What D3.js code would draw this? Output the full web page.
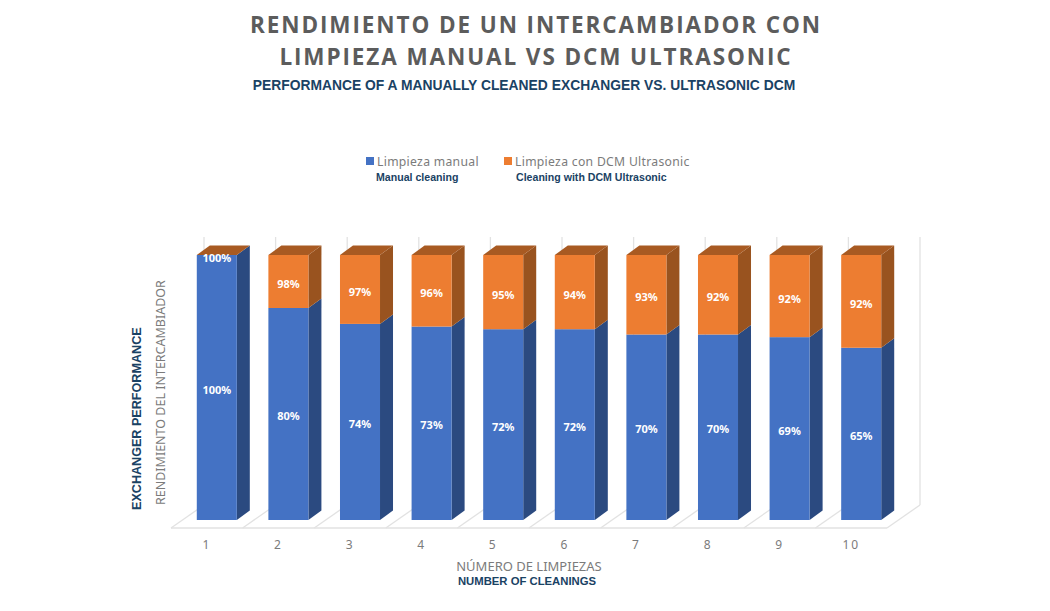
<!DOCTYPE html>
<html>
<head>
  <meta charset="utf-8">
  <title>Rendimiento de un intercambiador</title>
  <style type="text/css">
    html, body { margin: 0; padding: 0; background: #fff; }
    svg { display: block; }
    .en { font-family: "Liberation Sans", Arial, sans-serif; font-weight: bold; fill: #1a4264; }
    .es { font-family: "Noto Sans", sans-serif; fill: #7b7b7b; }
    .val { font-family: "Noto Sans", sans-serif; font-weight: bold; font-size: 11px; fill: #fff; text-anchor: middle; }
  </style>
</head>
<body>
<svg id="vis" width="1050" height="611"></svg>

<script src="https://cdnjs.cloudflare.com/ajax/libs/d3/7.8.5/d3.min.js"></script>
<script type="text/javascript">
  var categories = ['1', '2', '3', '4', '5', '6', '7', '8', '9', '10'];
  // blue bars, % of the first cleaning
  var manual = [100, 80, 74, 73, 72, 72, 70, 70, 69, 65];
  // orange labels; the orange block always fills up to the axis maximum
  var ultrasonic = [100, 98, 97, 96, 95, 94, 93, 92, 92, 92];
  var axisMax = 100;

  var blue = '#4472c4', blueSide = '#2b4a80',
      orange = '#ed7d31', orangeTop = '#a85a22', orangeSide = '#99531f',
      grid = '#e2e2e2';

  var svg = d3.select('#vis');

  var x = d3.scaleBand().domain(categories).range([171, 887])
    .paddingInner(0.441).paddingOuter(0.2205);
  var y = d3.scaleLinear().domain([0, axisMax]).range([520, 255]);
  var step = x.step();

  // 3d look: bars sit a little inside the floor, and have a slanted depth
  var barShift = 10, depthX = 13, depthY = 9.5;
  var floorDX = 33, floorDY = 23, floorY = 528, wallTop = 237;

  function poly(pts) { return pts.map(function(p) { return p.join(','); }).join(' '); }

  /* floor and back wall */
  var floor = svg.append('g').attr('fill', 'none').attr('stroke', grid).attr('stroke-width', 1.3);
  floor.append('line').attr('x1', 171).attr('x2', 887).attr('y1', floorY).attr('y2', floorY);
  d3.range(0, categories.length + 1).forEach(function(i) {
    var fx = 171 + i * step;
    floor.append('line').attr('x1', fx).attr('x2', fx + floorDX)
      .attr('y1', floorY).attr('y2', floorY - floorDY);
    floor.append('line').attr('x1', fx + floorDX).attr('x2', fx + floorDX)
      .attr('y1', floorY - floorDY).attr('y2', wallTop);
  });

  /* bars */
  function box(g, x0, y0, y1, front, side) {
    // y0 = lower edge, y1 = upper edge
    g.append('polygon').attr('fill', side).attr('points', poly([
      [x0 + x.bandwidth(), y0], [x0 + x.bandwidth() + depthX, y0 - depthY],
      [x0 + x.bandwidth() + depthX, y1 - depthY], [x0 + x.bandwidth(), y1]]));
    g.append('rect').attr('fill', front).attr('x', x0).attr('y', y1)
      .attr('width', x.bandwidth()).attr('height', y0 - y1);
  }

  var bars = svg.selectAll('g.bar').data(categories).enter().append('g').attr('class', 'bar');

  bars.each(function(d, i) {
    var g = d3.select(this), x0 = x(d) + barShift;
    box(g, x0, y(0), y(manual[i]), blue, blueSide);
    if (manual[i] < axisMax) box(g, x0, y(manual[i]), y(axisMax), orange, orangeSide);
    g.append('polygon').attr('fill', orangeTop).attr('points', poly([
      [x0, y(axisMax)], [x0 + depthX, y(axisMax) - depthY],
      [x0 + x.bandwidth() + depthX, y(axisMax) - depthY], [x0 + x.bandwidth(), y(axisMax)]]));

    var cx = x0 + x.bandwidth() / 2;
    g.append('text').attr('class', 'val').attr('x', cx)
      .attr('y', manual[i] < axisMax ? (y(manual[i]) + y(axisMax)) / 2 + 6.5 : y(axisMax) + 6.5)
      .text(ultrasonic[i] + '%');
    g.append('text').attr('class', 'val').attr('x', cx)
      .attr('y', (y(manual[i]) + y(0)) / 2 + 6)
      .text(manual[i] + '%');
  });

  /* category labels */
  svg.selectAll('text.cat').data(categories).enter().append('text')
    .attr('class', 'es cat')
    .attr('x', function(d) { return x(d) + x.bandwidth() / 2; })
    .attr('y', 549)
    .attr('text-anchor', 'middle')
    .attr('font-size', 12)
    .attr('letter-spacing', 1.8)
    .text(function(d) { return d; });

  /* titles */
  function label(cls, txt, px, py, size, extra) {
    var t = svg.append('text').attr('class', cls).attr('x', px).attr('y', py)
      .attr('font-size', size).text(txt);
    if (extra) Object.keys(extra).forEach(function(k) { t.attr(k, extra[k]); });
    return t;
  }

  label('es', 'RENDIMIENTO DE UN INTERCAMBIADOR CON', 536, 33, 22.5,
    { 'text-anchor': 'middle', 'font-weight': 'bold', 'letter-spacing': 1.9, style: 'fill:#5c5c5c;font-family:"Open Sans"' });
  label('es', 'LIMPIEZA MANUAL VS DCM ULTRASONIC', 536, 65, 22.5,
    { 'text-anchor': 'middle', 'font-weight': 'bold', 'letter-spacing': 1.9, style: 'fill:#5c5c5c;font-family:"Open Sans"' });
  label('en', 'PERFORMANCE OF A MANUALLY CLEANED EXCHANGER VS. ULTRASONIC DCM', 524, 90, 13.85,
    { 'text-anchor': 'middle' });

  /* legend */
  svg.append('rect').attr('x', 366).attr('y', 157).attr('width', 8).attr('height', 8).attr('fill', blue);
  svg.append('rect').attr('x', 504).attr('y', 157).attr('width', 8).attr('height', 8).attr('fill', orange);
  label('es', 'Limpieza manual', 377, 166, 12.2, { 'letter-spacing': 0.3 });
  label('es', 'Limpieza con DCM Ultrasonic', 515, 166, 12.2, { 'letter-spacing': 0.3 });
  label('en', 'Manual cleaning', 376, 181, 10.6);
  label('en', 'Cleaning with DCM Ultrasonic', 516, 181, 10.6);

  /* axis titles */
  label('es', 'NÚMERO DE LIMPIEZAS', 529, 571, 13, { 'text-anchor': 'middle' });
  label('en', 'NUMBER OF CLEANINGS', 527, 585, 11.3, { 'text-anchor': 'middle' });
  label('es', 'RENDIMIENTO DEL INTERCAMBIADOR', 0, 0, 12.5,
    { transform: 'translate(165,505) rotate(-90)' });
  label('en', 'EXCHANGER PERFORMANCE', 0, 0, 12.6,
    { transform: 'translate(141,510) rotate(-90)' });
</script>
</body>
</html>
